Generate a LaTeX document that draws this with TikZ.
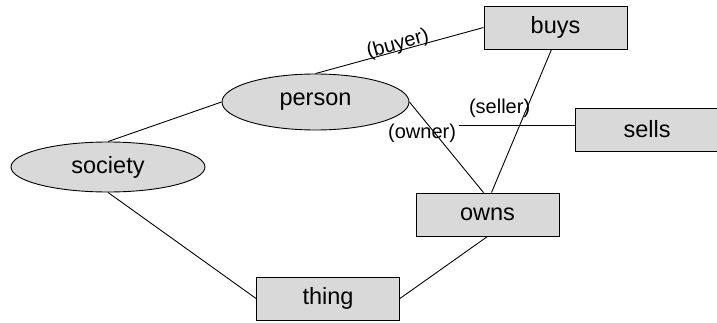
\documentclass[tikz,border=0pt]{standalone}
\usepackage{fontspec}
\setmainfont{Liberation Sans}
\usetikzlibrary{shapes.geometric}

\begin{document}
\begin{tikzpicture}[x=1pt,y=-1pt,line width=0.9pt,
  concept/.style={ellipse,draw,fill=gray!30,inner sep=0pt,font=\fontsize{23.5}{28}\selectfont},
  relbox/.style={rectangle,draw,fill=gray!30,minimum width=143pt,minimum height=43pt,inner sep=0pt,font=\fontsize{23.5}{28}\selectfont},
  role/.style={font=\fontsize{20}{24}\selectfont,inner sep=1pt}]
  \useasboundingbox (0,0) rectangle (717,323);
  \node[concept,minimum width=194pt,minimum height=50pt] (society) at (108,167) {society};
  \node[concept,minimum width=187pt,minimum height=56pt] (person) at (315.5,102) {person};
  \node[relbox] (thing) at (328,298.5) {thing};
  \node[relbox] (buys) at (555.5,27.5) {buys};
  \node[relbox] (sells) at (647,129.5) {sells};
  \node[relbox] (owns) at (487.5,214.5) {owns};
  \coordinate (sellend) at (459,125);
  \draw (society.north) -- (person.west);
  \draw (person.north) -- node[role,sloped,anchor=base,pos=0.5,yshift=1pt] (lblbuyer) {(buyer)} (buys.west);
  \draw (person.east) -- node[role,pos=0.36,xshift=-14pt,yshift=1pt] (lblowner) {(owner)} ([xshift=-4pt]owns.north);
  \draw (sells.west |- sellend) -- node[role,pos=0.65,above=6pt] (lblseller) {(seller)} (sellend);
  \draw ([xshift=4pt]owns.north) -- ([xshift=-4pt]buys.south);
  \draw (society.south) -- (thing.west);
  \draw (owns.south) -- (thing.east);
\end{tikzpicture}
\end{document}
